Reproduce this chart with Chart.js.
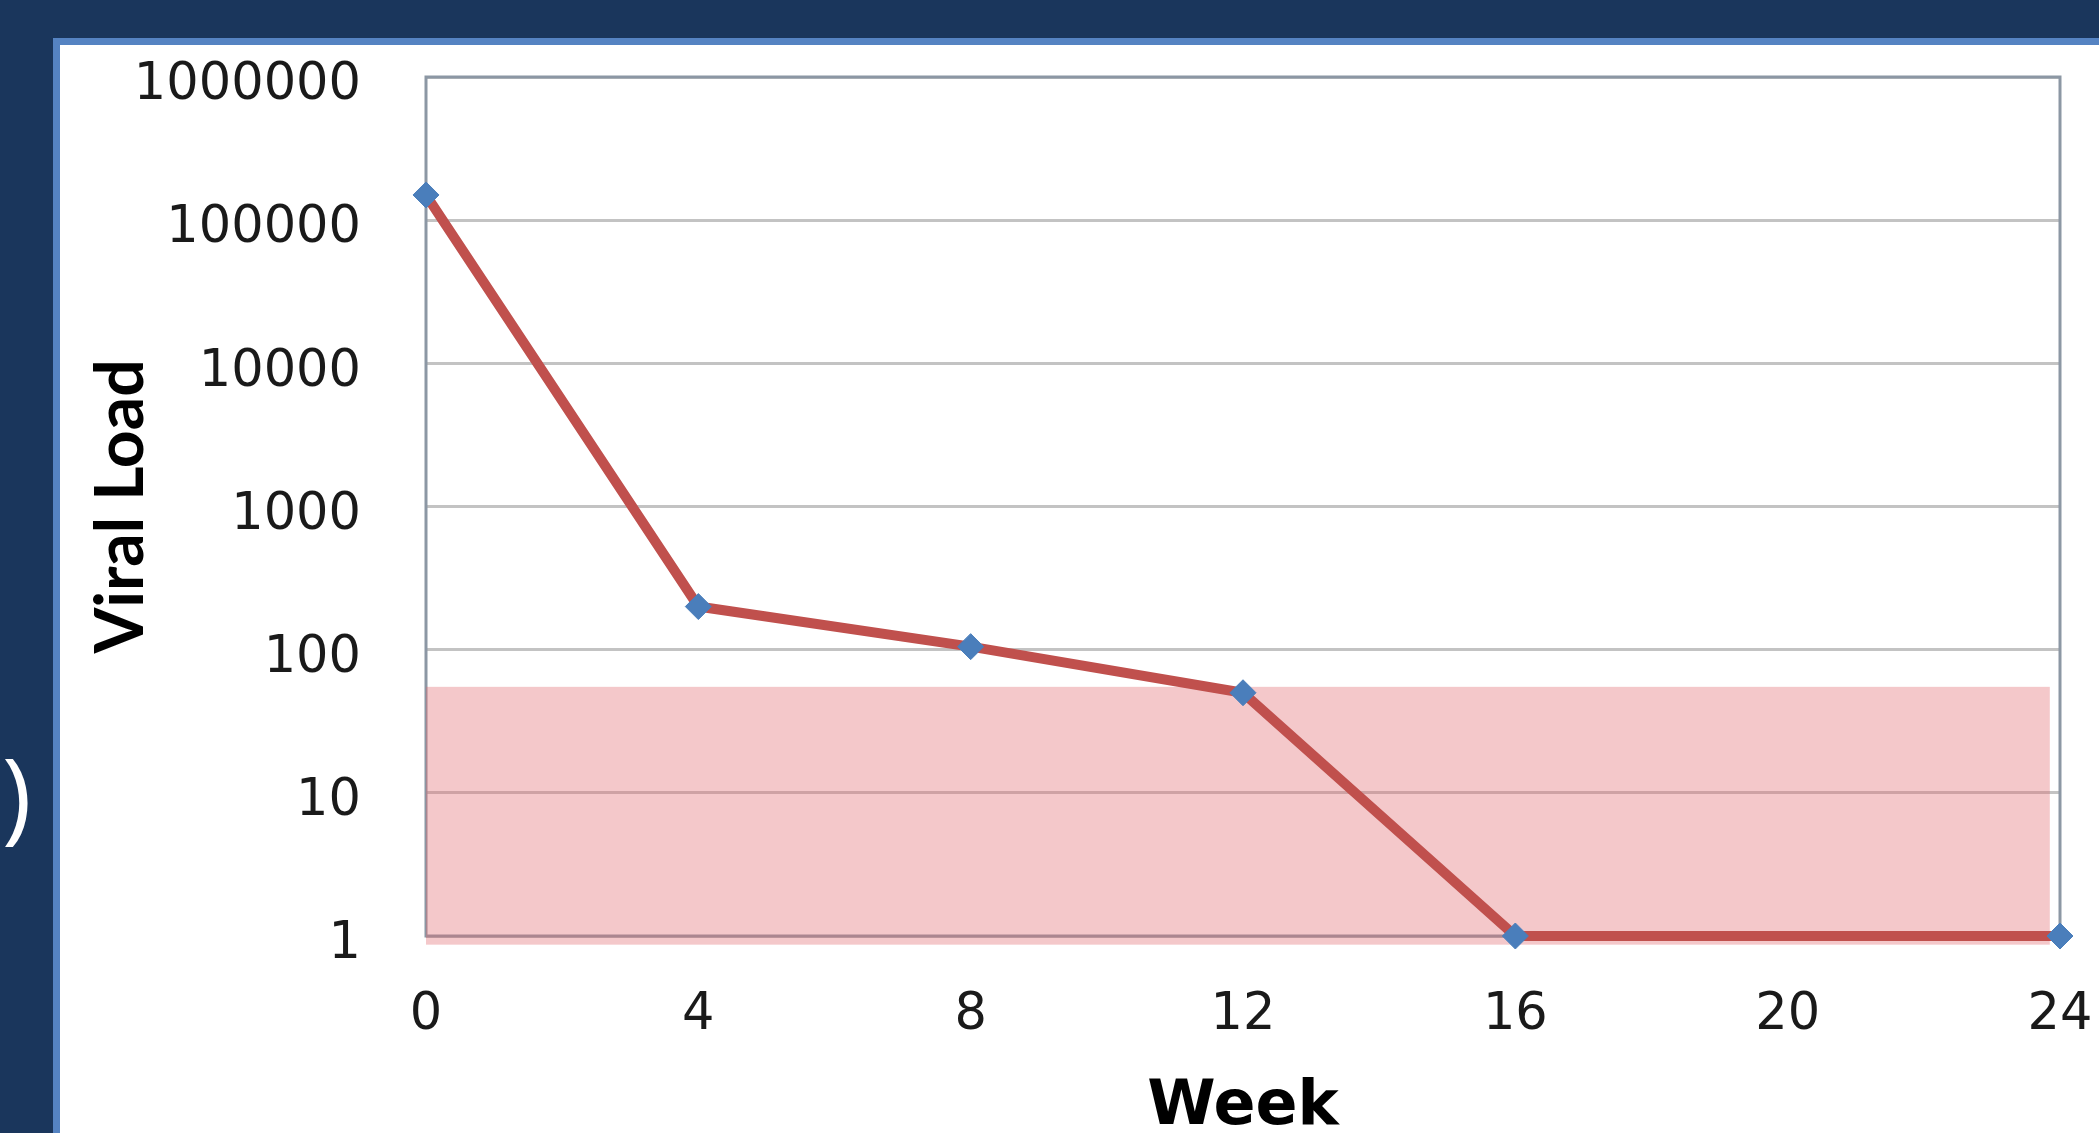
<!DOCTYPE html>
<html><head><meta charset="utf-8">
<script src="https://cdn.jsdelivr.net/npm/chart.js@4.4.0/dist/chart.umd.min.js"></script>
<style>
html,body{margin:0;padding:0;width:2099px;height:1133px;overflow:hidden;background:#1a365c;}
#panel{position:absolute;left:53px;top:38px;width:2046px;height:1095px;background:#5583c2;}
#inner{position:absolute;left:7px;top:7px;width:2039px;height:1088px;background:#fff;}
canvas{display:block;}
#paren{position:absolute;left:2px;top:742px;color:#fff;font:100px 'Open Sans';line-height:1;}
</style></head>
<body>
<div id="paren">)</div>
<div id="panel"><div id="inner"><canvas id="c" width="2039" height="1088"></canvas></div></div>
<script>
const weeks = [0, 4, 8, 12, 16, 24];
const viralLoad = [150000, 200, 105, 50, 1, 1];
const xTickValues = [0, 4, 8, 12, 16, 20, 24];
const yTickValues = [1, 10, 100, 1000, 10000, 100000, 1000000];
const bandWeeks = [0, 23.85];
const bandLoad = [0.87, 55];
const xTitle = 'Week';
const yTitle = 'Viral Load';

const bandPlugin = {
  id: 'band',
  beforeDatasetsDraw(chart) {
    const {ctx, chartArea: a, scales: {x, y}} = chart;
    ctx.save();
    ctx.strokeStyle = '#8c97a4';
    ctx.lineWidth = 3;
    ctx.strokeRect(a.left, a.top, a.right - a.left, a.bottom - a.top);
    const x0 = x.getPixelForValue(bandWeeks[0]), x1 = x.getPixelForValue(bandWeeks[1]);
    const y0 = y.getPixelForValue(bandLoad[1]), y1 = y.getPixelForValue(bandLoad[0]);
    ctx.fillStyle = 'rgba(225,105,110,0.37)';
    ctx.fillRect(x0, y0, x1 - x0, y1 - y0);
    ctx.restore();
  }
};

new Chart(document.getElementById('c'), {
  type: 'line',
  data: {
    datasets: [{
      data: weeks.map((w, i) => ({x: w, y: viralLoad[i]})),
      borderColor: '#c0504d',
      borderWidth: 10,
      pointStyle: 'rectRot',
      pointRadius: 13,
      pointBackgroundColor: '#4a7ebb',
      pointBorderColor: '#4a7ebb',
      pointBorderWidth: 1,
      tension: 0,
      clip: false
    }]
  },
  options: {
    responsive: false,
    animation: false,
    devicePixelRatio: 1,
    layout: {padding: {left: 0, top: 32, right: 39, bottom: 0}},
    plugins: {legend: {display: false}, tooltip: {enabled: false}},
    scales: {
      x: {
        type: 'linear', min: 0, max: 24,
        afterBuildTicks: s => { s.ticks = xTickValues.map(v => ({value: v})); },
        afterFit: s => { s.height = 197; s.paddingLeft = 0; s.paddingRight = 0; },
        grid: {display: false, drawTicks: false},
        border: {display: false},
        ticks: {padding: 49, maxRotation: 0, autoSkip: false, color: '#1a1a1a',
                font: {family: 'DejaVu Sans', size: 51}},
        title: {display: true, text: xTitle, color: '#000',
                font: {family: 'DejaVu Sans', weight: 'bold', size: 62, lineHeight: 1},
                padding: {top: 0, bottom: -6}}
      },
      y: {
        type: 'logarithmic', min: 1, max: 1000000,
        afterBuildTicks: s => { s.ticks = yTickValues.map(v => ({value: v})); },
        afterFit: s => { s.width = 366; s.paddingTop = 0; s.paddingBottom = 0; },
        grid: {color: '#c3c3c3', lineWidth: 3, drawTicks: false},
        border: {display: false},
        ticks: {padding: 65, labelOffset: 9, autoSkip: false, color: '#1a1a1a',
                callback: v => String(v),
                font: {family: 'DejaVu Sans', size: 51}},
        title: {display: true, text: yTitle, color: '#000',
                font: {family: 'Lato', weight: 'bold', size: 66, lineHeight: 1.2},
                padding: {top: 22, bottom: 0}}
      }
    }
  },
  plugins: [bandPlugin]
});
</script>
</body></html>
